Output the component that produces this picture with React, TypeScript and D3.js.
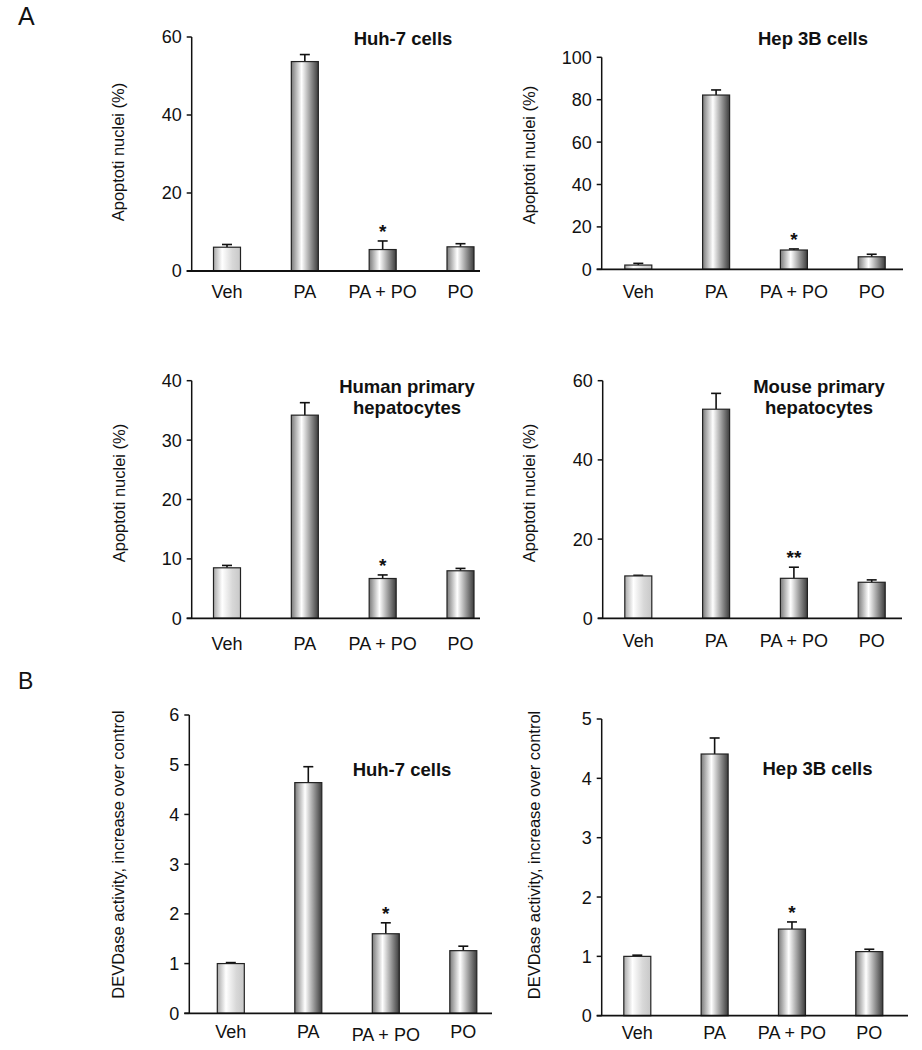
import React from "react";
import * as d3 from "d3";

// ---- data ----
const categories = ["Veh", "PA", "PA + PO", "PO"];

const huh7ApopMean = [6.1, 53.7, 5.5, 6.2];
const huh7ApopErr = [0.7, 1.8, 2.2, 0.8];
const huh7ApopSig = ["", "", "*", ""];
const huh7ApopTicks = [0, 20, 40, 60];

const hep3bApopMean = [2.0, 82.2, 9.1, 5.9];
const hep3bApopErr = [0.8, 2.4, 0.5, 1.2];
const hep3bApopSig = ["", "", "*", ""];
const hep3bApopTicks = [0, 20, 40, 60, 80, 100];

const humanApopMean = [8.5, 34.2, 6.7, 8.0];
const humanApopErr = [0.4, 2.1, 0.6, 0.4];
const humanApopSig = ["", "", "*", ""];
const humanApopTicks = [0, 10, 20, 30, 40];

const mouseApopMean = [10.7, 52.8, 10.1, 9.1];
const mouseApopErr = [0.15, 4.0, 2.8, 0.6];
const mouseApopSig = ["", "", "**", ""];
const mouseApopTicks = [0, 20, 40, 60];

const huh7DevdMean = [1.0, 4.64, 1.6, 1.26];
const huh7DevdErr = [0.02, 0.32, 0.22, 0.09];
const huh7DevdSig = ["", "", "*", ""];
const huh7DevdTicks = [0, 1, 2, 3, 4, 5, 6];

const hep3bDevdMean = [1.0, 4.41, 1.46, 1.08];
const hep3bDevdErr = [0.02, 0.27, 0.12, 0.04];
const hep3bDevdSig = ["", "", "*", ""];
const hep3bDevdTicks = [0, 1, 2, 3, 4, 5];

const apopLabel = "Apoptoti nuclei (%)";
const devdLabel = "DEVDase activity, increase over control";

const FONT = "'Liberation Sans', Arial, Helvetica, sans-serif";

type PanelProps = {
  means: number[];
  errs: number[];
  sig: string[];
  ticks: number[];
  axisX: number;
  y0: number;
  yTop: number;
  c0: number;
  c3: number;
  axisEnd: number;
  title: string[];
  titleX: number;
  titleY: number;
  yLabel: string;
  yLabelX: number;
  yLabelY: number;
  catY: number;
  catYs?: number[];
};

function Panel(p: PanelProps) {
  const max = p.ticks[p.ticks.length - 1];
  const y = d3.scaleLinear().domain([0, max]).range([p.y0, p.yTop]);
  const x = d3.scalePoint<string>().domain(categories).range([p.c0, p.c3]);
  const bw = 27;
  return (
    <g>
      {categories.map((c, i) => {
        const cx = x(c) as number;
        const top = y(p.means[i]);
        const et = y(p.means[i] + p.errs[i]);
        return (
          <g key={c}>
            <line x1={cx} x2={cx} y1={top} y2={et} stroke="#111" strokeWidth={1.6} />
            <line x1={cx - 5} x2={cx + 5} y1={et} y2={et} stroke="#111" strokeWidth={1.6} />
            <rect
              x={cx - bw / 2}
              y={top}
              width={bw}
              height={p.y0 - top}
              fill={i === 0 ? "url(#gLight)" : "url(#gDark)"}
              stroke="#222"
              strokeWidth={1.2}
            />
            {p.sig[i] ? (
              <text
                x={cx}
                y={et - 3}
                textAnchor="middle"
                fontFamily={FONT}
                fontSize={19}
                fontWeight="bold"
                fill="#111"
              >
                {p.sig[i]}
              </text>
            ) : null}
            <text
              x={cx}
              y={p.catYs ? p.catYs[i] : p.catY}
              textAnchor="middle"
              fontFamily={FONT}
              fontSize={18}
              fill="#111"
            >
              {c}
            </text>
          </g>
        );
      })}
      <line x1={p.axisX} x2={p.axisX} y1={p.y0} y2={p.yTop} stroke="#111" strokeWidth={1.5} />
      <line x1={p.axisX - 5} x2={p.axisEnd} y1={p.y0} y2={p.y0} stroke="#111" strokeWidth={1.8} />
      {p.ticks.map((t) => (
        <g key={t}>
          <line x1={p.axisX - 5} x2={p.axisX} y1={y(t)} y2={y(t)} stroke="#111" strokeWidth={1.5} />
          <text
            x={p.axisX - 10}
            y={y(t)}
            dy="0.36em"
            textAnchor="end"
            fontFamily={FONT}
            fontSize={18}
            fill="#111"
          >
            {t}
          </text>
        </g>
      ))}
      {p.title.map((t, k) => (
        <text
          key={k}
          x={p.titleX}
          y={p.titleY + k * 21}
          textAnchor="middle"
          fontFamily={FONT}
          fontSize={18.5}
          fontWeight="bold"
          fill="#111"
        >
          {t}
        </text>
      ))}
      <text
        transform={`translate(${p.yLabelX},${p.yLabelY}) rotate(-90)`}
        textAnchor="middle"
        fontFamily={FONT}
        fontSize={16.5}
        fill="#111"
      >
        {p.yLabel}
      </text>
    </g>
  );
}

export default function App() {
  return (
    <svg
      width={922}
      height={1050}
      style={{ position: "absolute", left: 0, top: 0, background: "#fff" }}
    >
      <defs>
        <linearGradient id="gDark" x1="0" x2="1" y1="0" y2="0">
          <stop offset="0" stopColor="#7a7a7a" />
          <stop offset="0.38" stopColor="#ffffff" />
          <stop offset="0.75" stopColor="#8a8a8a" />
          <stop offset="1" stopColor="#3c3c3c" />
        </linearGradient>
        <linearGradient id="gLight" x1="0" x2="1" y1="0" y2="0">
          <stop offset="0" stopColor="#a8a8a8" />
          <stop offset="0.32" stopColor="#ffffff" />
          <stop offset="0.7" stopColor="#d8d8d8" />
          <stop offset="1" stopColor="#c8c8c8" />
        </linearGradient>
      </defs>
      <rect x={0} y={0} width={922} height={1050} fill="#fff" />
      <text x={18} y={25} fontFamily={FONT} fontSize={25} fill="#111">A</text>
      <text x={18} y={689} fontFamily={FONT} fontSize={23} fill="#111">B</text>

      <Panel
        means={huh7ApopMean}
        errs={huh7ApopErr}
        sig={huh7ApopSig}
        ticks={huh7ApopTicks}
        axisX={191.7}
        y0={271}
        yTop={37}
        c0={227}
        c3={460.5}
        axisEnd={480}
        title={["Huh-7 cells"]}
        titleX={403}
        titleY={45}
        yLabel={apopLabel}
        yLabelX={124}
        yLabelY={152}
        catY={298}
      />
      <Panel
        means={hep3bApopMean}
        errs={hep3bApopErr}
        sig={hep3bApopSig}
        ticks={hep3bApopTicks}
        axisX={601.7}
        y0={269.3}
        yTop={57.3}
        c0={638.3}
        c3={871.7}
        axisEnd={903}
        title={["Hep 3B cells"]}
        titleX={813}
        titleY={45}
        yLabel={apopLabel}
        yLabelX={535}
        yLabelY={155}
        catY={298}
      />
      <Panel
        means={humanApopMean}
        errs={humanApopErr}
        sig={humanApopSig}
        ticks={humanApopTicks}
        axisX={191.7}
        y0={618.3}
        yTop={380.7}
        c0={227}
        c3={460.5}
        axisEnd={480}
        title={["Human primary", "hepatocytes"]}
        titleX={407}
        titleY={393}
        yLabel={apopLabel}
        yLabelX={125}
        yLabelY={493}
        catY={650}
      />
      <Panel
        means={mouseApopMean}
        errs={mouseApopErr}
        sig={mouseApopSig}
        ticks={mouseApopTicks}
        axisX={602.7}
        y0={618.3}
        yTop={380.7}
        c0={638.3}
        c3={871.7}
        axisEnd={902}
        title={["Mouse primary", "hepatocytes"]}
        titleX={819}
        titleY={393}
        yLabel={apopLabel}
        yLabelX={535}
        yLabelY={493}
        catY={647}
      />
      <Panel
        means={huh7DevdMean}
        errs={huh7DevdErr}
        sig={huh7DevdSig}
        ticks={huh7DevdTicks}
        axisX={189.3}
        y0={1013.3}
        yTop={715}
        c0={230.8}
        c3={463.3}
        axisEnd={492}
        title={["Huh-7 cells"]}
        titleX={402}
        titleY={776}
        yLabel={devdLabel}
        yLabelX={124}
        yLabelY={854.5}
        catY={1038}
        catYs={[1038, 1038, 1041, 1038]}
      />
      <Panel
        means={hep3bDevdMean}
        errs={hep3bDevdErr}
        sig={hep3bDevdSig}
        ticks={hep3bDevdTicks}
        axisX={601.7}
        y0={1015.7}
        yTop={719}
        c0={637.3}
        c3={869.3}
        axisEnd={908}
        title={["Hep 3B cells"]}
        titleX={817.5}
        titleY={775}
        yLabel={devdLabel}
        yLabelX={540}
        yLabelY={855}
        catY={1039}
      />
    </svg>
  );
}
